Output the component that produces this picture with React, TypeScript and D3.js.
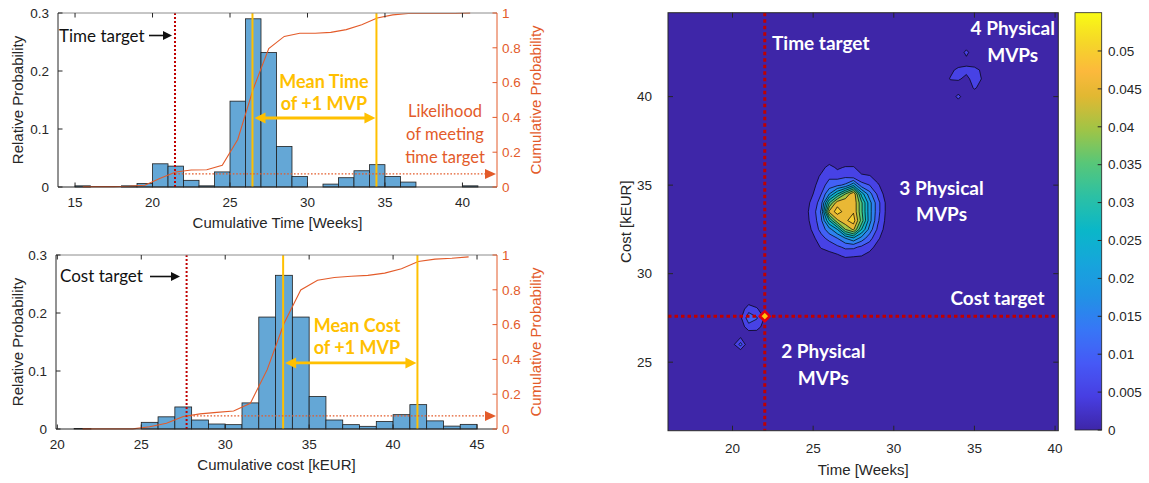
import React from "react";
import * as d3 from "d3";

// ---- Histogram data: relative probability per 1-unit bin ----
const timeBinStart = 15; // first bin is [15, 16) weeks
const timeProb = [
  0.002, 0, 0, 0.002, 0.006, 0.04, 0.036, 0.0115, 0.002, 0.026, 0.148, 0.29, 0.232,
  0.07, 0.018, 0, 0.005, 0.016, 0.028, 0.0385, 0.018, 0.0085, 0, 0, 0, 0.002,
];
const costBinStart = 21; // first bin is [21, 22) kEUR
const costProb = [
  0.001, 0, 0, 0, 0.0115, 0.021, 0.038, 0.0155, 0.0086, 0.0075, 0.045, 0.193, 0.265,
  0.193, 0.056, 0.0155, 0.0075, 0.0046, 0.013, 0.0247, 0.042, 0.014, 0.005, 0.008,
];

// ---- Reference values ----
const timeTarget = 21.45;
const timeMean = 26.45;
const timeMeanPlusOne = 34.45;
const costTarget = 27.7;
const costMean = 33.45;
const costMeanPlusOne = 41.45;
const likelihoodTime = 0.075;
const likelihoodCost = 0.075;
const timeArrowLevel = 0.119;
const costArrowLevel = 0.114;

// ---- Axis ticks ----
const relTicks = [0, 0.1, 0.2, 0.3];
const cumTicks = [0, 0.2, 0.4, 0.6, 0.8, 1];
const timeTicks = [15, 20, 25, 30, 35, 40];
const costTicks = [20, 25, 30, 35, 40, 45];
const heatTimeTicks = [20, 25, 30, 35, 40];
const heatCostTicks = [25, 30, 35, 40];
const colorbarTicks = [0, 0.005, 0.01, 0.015, 0.02, 0.025, 0.03, 0.035, 0.04, 0.045, 0.05];

// ---- Joint time/cost probability on a 0.5 week x 0.5 kEUR grid ----
const gridTime0 = 16;
const gridCost0 = 21;
const gridStep = 0.5;
const gridNx = 50;
const gridNy = 49;

// 3 physical MVPs: dense block, rows by cost (high to low), columns by time
const clusterTimes = [24.5, 25, 25.5, 26, 26.5, 27, 27.5, 28, 28.5, 29, 29.5];
const clusterCosts = [36.5, 36, 35.5, 35, 34.5, 34, 33.5, 33, 32.5, 32, 31.5, 31];
const clusterDensity = [
  [0, 0, 0, 0.001, 0, 0, 0, 0, 0, 0, 0],
  [0, 0, 0.003, 0.007, 0.004, 0.0055, 0.0055, 0.002, 0, 0, 0],
  [0, 0.002, 0.006, 0.009, 0.008, 0.009, 0.007, 0.006, 0.0055, 0.002, 0],
  [0, 0.0035, 0.008, 0.012, 0.014, 0.016, 0.024, 0.012, 0.01, 0.006, 0.001],
  [0.002, 0.005, 0.01, 0.02, 0.03, 0.04, 0.0495, 0.028, 0.017, 0.009, 0.003],
  [0.003, 0.0065, 0.013, 0.035, 0.048, 0.0495, 0.0495, 0.036, 0.022, 0.012, 0.0045],
  [0.0033, 0.0075, 0.0158, 0.046, 0.0525, 0.048, 0.0495, 0.036, 0.022, 0.012, 0.0045],
  [0.003, 0.007, 0.014, 0.03, 0.044, 0.049, 0.0525, 0.038, 0.022, 0.011, 0.004],
  [0.002, 0.006, 0.012, 0.018, 0.025, 0.04, 0.046, 0.03, 0.018, 0.009, 0.003],
  [0, 0.004, 0.008, 0.012, 0.015, 0.02, 0.024, 0.018, 0.012, 0.006, 0.002],
  [0, 0.002, 0.0055, 0.006, 0.009, 0.011, 0.011, 0.009, 0.007, 0.003, 0],
  [0, 0, 0.002, 0.004, 0.004, 0.006, 0.0055, 0.005, 0.003, 0, 0],
];

// 2 and 4 physical MVPs: sparse cells [time, cost, probability]
const sparseCells: [number, number, number][] = [
  // 2 physical MVPs
  [20.5, 26, 0.012], [20, 26, 0.003], [20.5, 26.5, 0.003],
  [20.5, 27, 0.002], [21, 27, 0.008], [21.5, 27, 0.007], [22, 27, 0.003],
  [20.5, 27.5, 0.004], [21, 27.5, 0.013], [21.5, 27.5, 0.0105], [22, 27.5, 0.0045],
  [20.5, 28, 0.002], [21, 28, 0.008], [21.5, 28, 0.006],
  [21, 28.5, 0.002], [21, 26.5, 0.001], [21.5, 26.5, 0.002],
  // 4 physical MVPs
  [33.5, 41, 0.0055], [34, 41, 0.006], [34.5, 41, 0.003], [35, 41, 0.008], [35.5, 41, 0.0045],
  [33.5, 41.5, 0.003], [34, 41.5, 0.007], [34.5, 41.5, 0.007], [35, 41.5, 0.0075], [35.5, 41.5, 0.0035],
  [35, 40.5, 0.006], [35.5, 40.5, 0.002],
  [34.5, 42.5, 0.007], [34.5, 42, 0.0025],
  [34, 40, 0.007],
];

const densityLevels = [0.005, 0.01, 0.015, 0.02, 0.025, 0.03, 0.035, 0.04, 0.045, 0.05];
const densityMax = 0.0551;
const targetPoint = { time: 22, cost: 27.6 };

// ---- Parula colormap ----
const parulaStops = [0, 0.08, 0.16, 0.24, 0.32, 0.4, 0.48, 0.56, 0.64, 0.72, 0.8, 0.86, 0.93, 1];
const parulaColors = [
  "#3e26a8", "#473ee2", "#4659f6", "#3776f6", "#2192e5", "#16a5db", "#0ab7c8",
  "#2cc0a4", "#58c778", "#a0c446", "#e1b832", "#fcb93c", "#f5d728", "#f9fb15",
];
const parula = d3
  .scaleLinear<string>()
  .domain(parulaStops)
  .range(parulaColors)
  .interpolate(d3.interpolateRgb)
  .clamp(true);

const AXIS = "#262626";
const ORANGE = "#e35b2a";
const GOLD = "#ffc000";
const TARGET_RED = "#c00000";
const BAR = "#64a7d6";
const TICK_FONT = 13.5;
const LABEL_FONT = 15;
const ANNOT_FONT = "Lato, 'Open Sans', sans-serif";

type HistProps = {
  binStart: number;
  probs: number[];
  domain: [number, number];
  ticks: number[];
  l: number;
  r: number;
  t: number;
  b: number;
  xLabel: string;
  target: number;
  mean: number;
  meanPlus: number;
  arrowLevel: number;
  likelihood: number;
  targetText: string;
  targetTextPos: [number, number];
  blackArrow: [number, number, number];
  meanText: [string, string];
  meanTextPos: [number, number, number];
  showLikelihood: boolean;
};

function HistPanel(p: HistProps) {
  const x = d3.scaleLinear().domain(p.domain).range([p.l, p.r]);
  const y = d3.scaleLinear().domain([0, 0.3]).range([p.b, p.t]);
  const yc = d3.scaleLinear().domain([0, 1]).range([p.b, p.t]);
  const cum = Array.from(d3.cumsum(p.probs));
  const cdf = d3
    .line<number>()
    .x((_, i) => x(p.binStart + i + 0.5))
    .y((v) => yc(v))(cum) as string;

  const midY = (p.t + p.b) / 2;
  const arrowY = y(p.arrowLevel);
  const xm = x(p.mean);
  const xp = x(p.meanPlus);
  const likeY = yc(p.likelihood);
  const [bx1, bx2, by] = p.blackArrow;

  return (
    <g>
      {/* bars */}
      {p.probs.map((v, i) =>
        v > 0 ? (
          <rect
            key={i}
            x={x(p.binStart + i)}
            y={y(v)}
            width={x(p.binStart + i + 1) - x(p.binStart + i)}
            height={p.b - y(v)}
            fill={BAR}
            stroke="#1e1e1e"
            strokeWidth={0.8}
          />
        ) : null
      )}
      {/* cumulative probability */}
      <path d={cdf} fill="none" stroke={ORANGE} strokeWidth={1.1} />
      {/* target */}
      <line x1={x(p.target)} x2={x(p.target)} y1={p.t} y2={p.b} stroke={TARGET_RED} strokeWidth={2} strokeDasharray="2 2" />
      {/* mean lines */}
      <line x1={xm} x2={xm} y1={p.t} y2={p.b} stroke={GOLD} strokeWidth={2} />
      <line x1={xp} x2={xp} y1={p.t} y2={p.b} stroke={GOLD} strokeWidth={2} />
      {/* likelihood level */}
      <line x1={x(p.target)} x2={p.r - 11} y1={likeY} y2={likeY} stroke={ORANGE} strokeWidth={1.3} strokeDasharray="1.6 1.8" />
      <polygon points={`${p.r - 1},${likeY} ${p.r - 12},${likeY - 5} ${p.r - 12},${likeY + 5}`} fill={ORANGE} />
      {/* double arrow */}
      <line x1={xm + 12} x2={xp - 10} y1={arrowY} y2={arrowY} stroke={GOLD} strokeWidth={2.8} />
      <polygon points={`${xm + 2},${arrowY} ${xm + 13},${arrowY - 5.5} ${xm + 13},${arrowY + 5.5}`} fill={GOLD} />
      <polygon points={`${xp - 1},${arrowY} ${xp - 12},${arrowY - 5.5} ${xp - 12},${arrowY + 5.5}`} fill={GOLD} />
      {/* target annotation */}
      <text x={p.targetTextPos[0]} y={p.targetTextPos[1]} fontFamily={ANNOT_FONT} fontSize={17} fill="#111">
        {p.targetText}
      </text>
      <line x1={bx1} x2={bx2 - 8} y1={by} y2={by} stroke="#111" strokeWidth={1.6} />
      <polygon points={`${bx2},${by} ${bx2 - 9},${by - 4.5} ${bx2 - 9},${by + 4.5}`} fill="#111" />
      <text textAnchor="middle" fontFamily={ANNOT_FONT} fontWeight={700} fontSize={18} fill={GOLD}>
        <tspan x={p.meanTextPos[0]} y={p.meanTextPos[1]}>{p.meanText[0]}</tspan>
        <tspan x={p.meanTextPos[0]} y={p.meanTextPos[2]}>{p.meanText[1]}</tspan>
      </text>
      {p.showLikelihood && (
        <text textAnchor="middle" fontFamily={ANNOT_FONT} fontSize={16.5} fill={ORANGE}>
          <tspan x={445} y={116.5}>Likelihood</tspan>
          <tspan x={445} y={139.5}>of meeting</tspan>
          <tspan x={445} y={162.5}>time target</tspan>
        </text>
      )}
      {/* axes box */}
      <line x1={p.l} x2={p.r} y1={p.t} y2={p.t} stroke="#8c8c8c" strokeWidth={1} />
      <line x1={p.l} x2={p.r} y1={p.b} y2={p.b} stroke={AXIS} strokeWidth={1} />
      <line x1={p.l} x2={p.l} y1={p.t} y2={p.b} stroke={AXIS} strokeWidth={1} />
      <line x1={p.r} x2={p.r} y1={p.t} y2={p.b} stroke={ORANGE} strokeWidth={1} />
      {p.ticks.map((v) => (
        <g key={v}>
          <line x1={x(v)} x2={x(v)} y1={p.b} y2={p.b - 4.5} stroke={AXIS} />
          <line x1={x(v)} x2={x(v)} y1={p.t} y2={p.t + 4.5} stroke={AXIS} />
          <text x={x(v)} y={p.b + 20} textAnchor="middle" fontSize={TICK_FONT} fill={AXIS}>
            {v}
          </text>
        </g>
      ))}
      {relTicks.map((v) => (
        <g key={v}>
          <line x1={p.l} x2={p.l + 4.5} y1={y(v)} y2={y(v)} stroke={AXIS} />
          <text x={p.l - 9} y={y(v)} dy="0.35em" textAnchor="end" fontSize={TICK_FONT} fill={AXIS}>
            {v}
          </text>
        </g>
      ))}
      {cumTicks.map((v) => (
        <g key={v}>
          <line x1={p.r} x2={p.r - 4.5} y1={yc(v)} y2={yc(v)} stroke={ORANGE} />
          <text x={p.r + 5} y={yc(v)} dy="0.35em" fontSize={TICK_FONT} fill={ORANGE}>
            {v}
          </text>
        </g>
      ))}
      <text x={(p.l + p.r) / 2} y={p.b + 41} textAnchor="middle" fontSize={LABEL_FONT} fill={AXIS}>
        {p.xLabel}
      </text>
      <text transform={`translate(22.5,${midY}) rotate(-90)`} textAnchor="middle" fontSize={LABEL_FONT} fill={AXIS}>
        Relative Probability
      </text>
      <text transform={`translate(${p.r + 43.5},${midY}) rotate(-90)`} textAnchor="middle" fontSize={LABEL_FONT} fill={ORANGE}>
        Cumulative Probability
      </text>
    </g>
  );
}

function buildDensityGrid(): number[] {
  const values = new Array(gridNx * gridNy).fill(0);
  const put = (tm: number, c: number, v: number) => {
    const i = Math.round((tm - gridTime0) / gridStep);
    const j = Math.round((c - gridCost0) / gridStep);
    values[j * gridNx + i] = v;
  };
  clusterDensity.forEach((row, r) => row.forEach((v, k) => put(clusterTimes[k], clusterCosts[r], v)));
  sparseCells.forEach(([tm, c, v]) => put(tm, c, v));
  return values;
}

function HeatPanel() {
  const l = 668;
  const r = 1058.3;
  const t = 12.7;
  const b = 430.7;
  const hx = d3.scaleLinear().domain([16, 40.2]).range([l, r]);
  const hy = d3.scaleLinear().domain([21.13, 44.74]).range([b, t]);

  const values = buildDensityGrid();
  const bands = d3.contours().size([gridNx, gridNy]).thresholds(densityLevels)(values);
  const px = (gx: number) => hx(gridTime0 + (gx - 0.5) * gridStep);
  const py = (gy: number) => hy(gridCost0 + (gy - 0.5) * gridStep);
  const bandPath = (mp: d3.ContourMultiPolygon) =>
    mp.coordinates
      .map((poly) =>
        poly
          .map((ring) => "M" + ring.map(([a, c]) => `${px(a).toFixed(2)},${py(c).toFixed(2)}`).join("L") + "Z")
          .join("")
      )
      .join("");

  const cbL = 1075;
  const cbR = 1101.7;
  const cbScale = d3.scaleLinear().domain([0, 0.05505]).range([430, t]);
  const tx = hx(targetPoint.time);
  const ty = hy(targetPoint.cost);

  return (
    <g>
      <defs>
        <clipPath id="heatClip">
          <rect x={l} y={t} width={r - l} height={b - t} />
        </clipPath>
        <linearGradient id="parulaGrad" x1="0" y1="1" x2="0" y2="0">
          {d3.range(0, 1.0001, 0.02).map((f) => (
            <stop key={f} offset={f} stopColor={parula(f)} />
          ))}
        </linearGradient>
      </defs>
      <g clipPath="url(#heatClip)">
        <rect x={l} y={t} width={r - l} height={b - t} fill={parula(0)} />
        {bands.map((band) => (
          <path
            key={band.value}
            d={bandPath(band)}
            fill={parula(band.value / densityMax)}
            fillRule="evenodd"
            stroke="#000"
            strokeWidth={0.7}
            strokeLinejoin="round"
          />
        ))}
        <line x1={tx} x2={tx} y1={t} y2={b} stroke={TARGET_RED} strokeWidth={3} strokeDasharray="3.5 3" />
        <line x1={l} x2={r} y1={ty} y2={ty} stroke={TARGET_RED} strokeWidth={3} strokeDasharray="3.5 3" />
        <path d={`M${tx},${ty - 5}L${tx + 5},${ty}L${tx},${ty + 5}L${tx - 5},${ty}Z`} fill="#ffc20e" stroke="#e00010" strokeWidth={2.5} />
      </g>
      <g fontFamily={ANNOT_FONT} fontWeight={700} fontSize={19} fill="#fff">
        <text x={772} y={50}>Time target</text>
        <text x={1012.7} y={35} textAnchor="middle">4 Physical</text>
        <text x={1012.7} y={61.5} textAnchor="middle">MVPs</text>
        <text x={941.5} y={195} textAnchor="middle">3 Physical</text>
        <text x={941.5} y={221} textAnchor="middle">MVPs</text>
        <text x={997.5} y={305} textAnchor="middle">Cost target</text>
        <text x={823.3} y={358.3} textAnchor="middle">2 Physical</text>
        <text x={823.3} y={385} textAnchor="middle">MVPs</text>
      </g>
      <rect x={l} y={t} width={r - l} height={b - t} fill="none" stroke={AXIS} strokeWidth={1} />
      {heatTimeTicks.map((v) => (
        <g key={v}>
          <line x1={hx(v)} x2={hx(v)} y1={b} y2={b - 5} stroke={AXIS} />
          <line x1={hx(v)} x2={hx(v)} y1={t} y2={t + 5} stroke={AXIS} />
          <text x={hx(v)} y={b + 22.5} textAnchor="middle" fontSize={TICK_FONT} fill={AXIS}>
            {v}
          </text>
        </g>
      ))}
      {heatCostTicks.map((v) => (
        <g key={v}>
          <line x1={l} x2={l + 5} y1={hy(v)} y2={hy(v)} stroke={AXIS} />
          <line x1={r} x2={r - 5} y1={hy(v)} y2={hy(v)} stroke={AXIS} />
          <text x={652} y={hy(v)} dy="0.35em" textAnchor="end" fontSize={TICK_FONT} fill={AXIS}>
            {v}
          </text>
        </g>
      ))}
      <text x={(l + r) / 2} y={475} textAnchor="middle" fontSize={LABEL_FONT} fill={AXIS}>
        Time [Weeks]
      </text>
      <text transform={`translate(631,${(t + b) / 2}) rotate(-90)`} textAnchor="middle" fontSize={LABEL_FONT} fill={AXIS}>
        Cost [kEUR]
      </text>
      {/* colorbar */}
      <rect x={cbL} y={t} width={cbR - cbL} height={430 - t} fill="url(#parulaGrad)" stroke={AXIS} strokeWidth={0.8} />
      {colorbarTicks.map((v) => (
        <g key={v}>
          <line x1={cbR} x2={cbR - 4} y1={cbScale(v)} y2={cbScale(v)} stroke={AXIS} />
          <text x={1108} y={cbScale(v)} dy="0.35em" fontSize={TICK_FONT} fill={AXIS}>
            {v}
          </text>
        </g>
      ))}
    </g>
  );
}

export default function App() {
  return (
    <svg
      width={1149}
      height={483}
      viewBox="0 0 1149 483"
      style={{ position: "absolute", left: 0, top: 0, display: "block" }}
      fontFamily="'Liberation Sans', Arial, sans-serif"
    >
      <rect width={1149} height={483} fill="#fff" />
      <HistPanel
        binStart={timeBinStart}
        probs={timeProb}
        domain={[13.9, 42.23]}
        ticks={timeTicks}
        l={58}
        r={497}
        t={13}
        b={187}
        xLabel="Cumulative Time [Weeks]"
        target={timeTarget}
        mean={timeMean}
        meanPlus={timeMeanPlusOne}
        arrowLevel={timeArrowLevel}
        likelihood={likelihoodTime}
        targetText="Time target"
        targetTextPos={[59, 41.5]}
        blackArrow={[149, 172, 35.5]}
        meanText={["Mean Time", "of +1 MVP"]}
        meanTextPos={[324, 87.5, 110]}
        showLikelihood={true}
      />
      <HistPanel
        binStart={costBinStart}
        probs={costProb}
        domain={[19.92, 46.19]}
        ticks={costTicks}
        l={56}
        r={497}
        t={255}
        b={429}
        xLabel="Cumulative cost [kEUR]"
        target={costTarget}
        mean={costMean}
        meanPlus={costMeanPlusOne}
        arrowLevel={costArrowLevel}
        likelihood={likelihoodCost}
        targetText="Cost target"
        targetTextPos={[60, 282]}
        blackArrow={[150, 180, 276.5]}
        meanText={["Mean Cost", "of +1 MVP"]}
        meanTextPos={[357, 332, 354]}
        showLikelihood={false}
      />
      <HeatPanel />
    </svg>
  );
}
